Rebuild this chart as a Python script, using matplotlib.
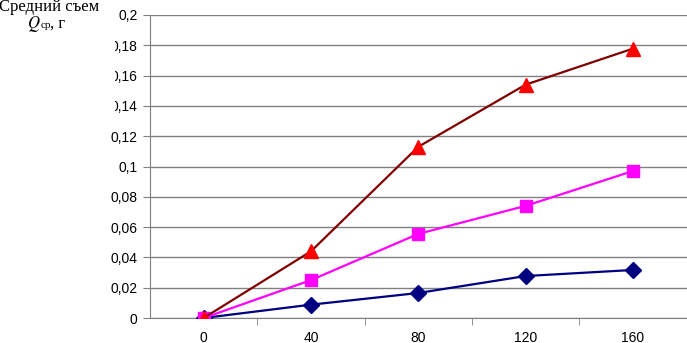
import matplotlib.pyplot as plt
from matplotlib.patches import Rectangle

# time, min (category axis)
x_labels = ["0", "40", "80", "120", "160"]

# average removal Q, g
q_blue = [0.0, 0.0088, 0.0165, 0.0277, 0.0317]
q_magenta = [0.0, 0.025, 0.0555, 0.074, 0.0970]
q_red = [0.0, 0.044, 0.113, 0.154, 0.1778]

y_ticks = [0, 0.02, 0.04, 0.06, 0.08, 0.1, 0.12, 0.14, 0.16, 0.18, 0.2]
y_tick_labels = ["0", "0,02", "0,04", "0,06", "0,08", "0,1", "0,12", "0,14", "0,16", "0,18", "0,2"]

plt.rcParams['font.family'] = ['Liberation Sans', 'DejaVu Sans']

fig = plt.figure(figsize=(6.87, 3.43), dpi=100)
ax = fig.add_axes([150 / 687, 1 - 318 / 343, 536.5 / 687, 303 / 343])

pos = list(range(len(x_labels)))
ax.plot(pos, q_blue, color='#000080', lw=1.6, marker='D', ms=8,
        mfc='#000080', mec='#000080', zorder=3)
ax.plot(pos, q_magenta, color='#FF00FF', lw=1.6, marker='s', ms=8,
        mfc='#FF00FF', mec='#FF00FF', zorder=4)
ax.plot(pos, q_red, color='#800000', lw=1.6, marker='^', ms=9.5,
        mfc='#FF0000', mec='#FF0000', zorder=5)

ax.set_xlim(-0.5, len(x_labels) - 0.5)
ax.set_ylim(0, 0.2)
ax.set_xticks(pos)
ax.set_xticklabels(x_labels, fontsize=10)
ax.set_xticks([p + 0.5 for p in pos], minor=True)
ax.tick_params(axis='x', which='major', length=0, pad=9)
ax.tick_params(axis='x', which='minor', length=5, color='#808080', direction='out')
ax.set_yticks(y_ticks)
ax.set_yticklabels(y_tick_labels, fontsize=10)
ax.tick_params(axis='y', length=5, color='#808080', direction='out', pad=4)

ax.grid(axis='y', color='#808080', lw=1)
ax.set_axisbelow(True)
for s in ['top', 'right']:
    ax.spines[s].set_visible(False)
for s in ['left', 'bottom']:
    ax.spines[s].set_color('#808080')

# axis title box (covers part of the tick labels, as in the source)
fig.patches.append(Rectangle((0, 1 - 118 / 343), 115 / 687, 118 / 343,
                             transform=fig.transFigure, facecolor='white',
                             edgecolor='none', zorder=5))
fig.text(49 / 687, 1 - 7 / 343, "Средний съем", fontsize=12,
         family='Liberation Serif', ha='center', va='center', zorder=6)
fig.text(41 / 687, 1 - 24 / 343, r"$Q$", fontsize=12,
         ha='right', va='center', zorder=6, math_fontfamily='stix')
fig.text(41 / 687, 1 - 26 / 343, "ср", fontsize=8,
         family='Liberation Serif', ha='left', va='center', zorder=6)
fig.text(50 / 687, 1 - 24 / 343, ", г", fontsize=12,
         family='Liberation Serif', ha='left', va='center', zorder=6)

fig.savefig("out.png", dpi=100)
